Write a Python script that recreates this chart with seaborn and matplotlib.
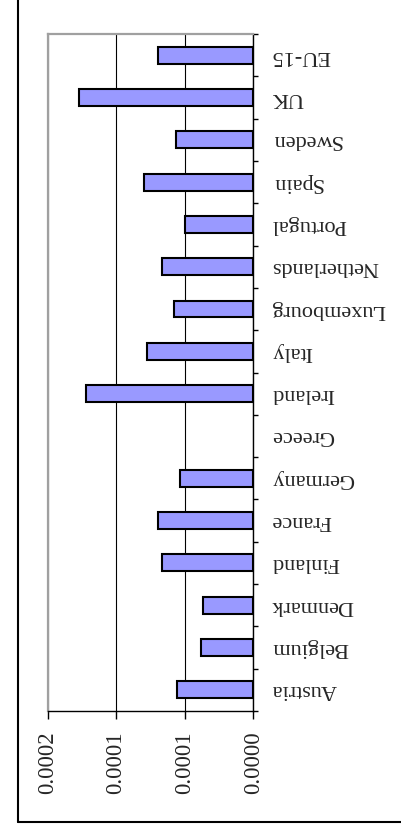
import numpy as np
import matplotlib
matplotlib.use("Agg")
import matplotlib.pyplot as plt
from matplotlib.lines import Line2D
from matplotlib.ticker import FixedLocator
import seaborn as sns
import pandas as pd

countries = ["Austria", "Belgium", "Denmark", "Finland", "France", "Germany",
             "Greece", "Ireland", "Italy", "Luxembourg", "Netherlands",
             "Portugal", "Spain", "Sweden", "UK", "EU-15"]
values = [0.0000555, 0.000038, 0.0000365, 0.0000669, 0.0000698, 0.0000537,
          np.nan, 0.0001223, 0.0000774, 0.0000581, 0.0000669, 0.0000496,
          0.000080, 0.0000566, 0.000127, 0.0000698]
value_ticks = [0.0, 0.00005, 0.0001, 0.00015]
value_tick_labels = ["0.0000", "0.0001", "0.0001", "0.0002"]

df = pd.DataFrame({"country": countries, "value": values})

sns.set_style("white")
plt.rcParams["font.family"] = ["Liberation Serif", "DejaVu Serif"]

W, H = 401, 834
fig = plt.figure(figsize=(W / 100, H / 100), dpi=100)
x0, x1, y0, y1 = 47.5, 253.3, 34, 711
ax = fig.add_axes([x0 / W, 1 - y1 / H, (x1 - x0) / W, (y1 - y0) / H])

sns.barplot(data=df, x="value", y="country", order=countries, orient="h",
            color="#9999FF", saturation=1, width=0.4, edgecolor="black",
            linewidth=1.5, ax=ax, errorbar=None)

ax.set_xlim(value_ticks[-1], value_ticks[0])
ax.set_ylim(-0.5, len(countries) - 0.5)
ax.set_xlabel("")
ax.set_ylabel("")

ax.set_xticks(value_ticks)
ax.set_xticklabels(value_tick_labels, rotation=90, fontsize=16.5)
ax.tick_params(axis="x", direction="out", length=5.8, width=1, color="black",
               pad=9, bottom=True)

ax.yaxis.tick_right()
ax.set_yticks(range(len(countries)))
ax.set_yticklabels(countries, rotation=180, fontsize=16, va="center")
ax.yaxis.set_minor_locator(FixedLocator(np.arange(-0.5, len(countries), 1.0)))
ax.tick_params(axis="y", which="major", length=0, pad=13, right=True, left=False)
ax.tick_params(axis="y", which="minor", length=3.8, width=1, color="black",
               direction="out", right=True, left=False)

ax.grid(axis="x", color="black", linewidth=0.8)
ax.grid(axis="y", visible=False)
ax.set_axisbelow(True)

for side in ["left", "top"]:
    ax.spines[side].set_color("#a0a0a0")
    ax.spines[side].set_linewidth(1.6)
for side in ["right", "bottom"]:
    ax.spines[side].set_color("black")
    ax.spines[side].set_linewidth(1.0)
    ax.spines[side].set_visible(True)

# outer chart border (left and bottom visible)
fig.add_artist(Line2D([17.5 / W, 17.5 / W], [1 - 821.5 / H, 1.0],
                      transform=fig.transFigure, color="black", lw=1.5))
fig.add_artist(Line2D([17.5 / W, 1.0], [1 - 821.5 / H, 1 - 821.5 / H],
                      transform=fig.transFigure, color="black", lw=1.5))

fig.savefig("out.png", dpi=100)
